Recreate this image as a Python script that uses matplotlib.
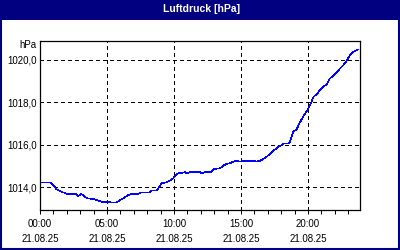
import matplotlib
matplotlib.use('Agg')
import matplotlib.pyplot as plt
from matplotlib.patches import Rectangle
from matplotlib.ticker import MultipleLocator, FixedLocator

# Luftdruck over the day (hours since 00:00, hPa)
hours = [0.0, 0.77, 1.02, 1.22, 1.59, 2.09, 2.71, 2.84, 3.09, 3.33, 3.58,
         4.08, 4.58, 5.32, 5.70, 6.07, 6.69, 7.31, 7.56, 8.21, 8.33, 8.71,
         8.83, 9.08, 9.46, 9.70, 9.95, 10.07, 10.32, 10.70, 10.82, 10.95,
         11.19, 11.44, 11.94, 12.06, 12.31, 12.56, 12.81, 12.94, 13.43,
         13.68, 13.93, 14.18, 14.43, 14.68, 14.93, 15.17, 15.43, 15.67,
         15.92, 16.17, 16.42, 16.67, 16.91, 17.16, 17.41, 17.66, 17.79,
         18.04, 18.16, 18.53, 18.66, 18.78, 18.91, 19.16, 19.28, 19.40,
         19.70, 20.02, 20.15, 20.40, 20.65, 20.90, 21.14, 21.40, 21.64,
         21.89, 22.14, 22.39, 22.63, 22.89, 23.13, 23.38, 23.75]
pressure = [1014.22, 1014.22, 1014.08, 1013.91, 1013.79, 1013.68, 1013.68,
            1013.59, 1013.68, 1013.56, 1013.48, 1013.43, 1013.32, 1013.29,
            1013.29, 1013.43, 1013.67, 1013.68, 1013.76, 1013.76, 1013.84,
            1013.84, 1013.95, 1014.19, 1014.24, 1014.31, 1014.42, 1014.53,
            1014.66, 1014.69, 1014.71, 1014.66, 1014.71, 1014.73, 1014.73,
            1014.66, 1014.71, 1014.73, 1014.73, 1014.86, 1014.89, 1015.02,
            1015.10, 1015.13, 1015.21, 1015.25, 1015.21, 1015.25, 1015.22,
            1015.25, 1015.25, 1015.21, 1015.25, 1015.33, 1015.44, 1015.57,
            1015.72, 1015.83, 1015.91, 1015.99, 1016.07, 1016.07, 1016.15,
            1016.38, 1016.62, 1016.74, 1016.90, 1017.06, 1017.40, 1017.70,
            1017.86, 1018.26, 1018.38, 1018.58, 1018.73, 1018.85, 1019.13,
            1019.25, 1019.41, 1019.60, 1019.75, 1019.96, 1020.23, 1020.38,
            1020.49]

xtick_pos = [0, 5, 10, 15, 20]
xtick_labels = ['00:00\n21.08.25', '05:00\n21.08.25', '10:00\n21.08.25',
                '15:00\n21.08.25', '20:00\n21.08.25']
ytick_pos = [1014, 1016, 1018, 1020]
ytick_labels = ['1014,0', '1016,0', '1018,0', '1020,0']

NAVY = '#000080'
FONT = 'Liberation Sans'
FS = 7

fig = plt.figure(figsize=(4, 2.5), dpi=100)
fig.patch.set_facecolor('white')

# title bar + frame
fig.add_artist(Rectangle((0, 1 - 20 / 250.), 1, 20 / 250., transform=fig.transFigure,
                         facecolor=NAVY, edgecolor='none'))
fig.add_artist(Rectangle((0.5 / 400, 1 / 250.), 1 - 2 / 400., 1 - 1.5 / 250.,
                         transform=fig.transFigure, facecolor='none',
                         edgecolor=NAVY, linewidth=1.5))
fig.text(202 / 400., 1 - 9.5 / 250., 'Luftdruck [hPa]', color='white',
         fontsize=7.5, fontweight='bold', family=FONT, ha='center', va='center')

ax = fig.add_axes([40 / 400., 40 / 250., 320 / 400., 169 / 250.])
ax.plot(hours, pressure, color='#0000ff', linewidth=0.4, antialiased=False)

ax.set_xlim(0, 23.88)
ax.set_ylim(1012.93, 1020.89)

ax.xaxis.set_major_locator(FixedLocator(xtick_pos))
ax.set_xticklabels(xtick_labels, fontsize=FS, family=FONT, linespacing=1.65)
ax.xaxis.set_minor_locator(MultipleLocator(1))
ax.set_yticks(ytick_pos)
ax.set_yticklabels(ytick_labels, fontsize=FS, family=FONT)

ax.tick_params(axis='x', which='both', direction='out', length=3, width=0.72,
               pad=3.5, colors='black')
ax.tick_params(axis='y', length=0, pad=2.5)

ax.grid(True, which='major', color='black', linestyle=(0, (3, 3)),
        linewidth=0.72, antialiased=False)
for sp in ax.spines.values():
    sp.set_linewidth(0.9)
    sp.set_color('black')

fig.text(37 / 400., 1 - 45 / 250., 'hPa', fontsize=FS, family=FONT,
         ha='right', va='center')

plt.savefig('out.png', dpi=100)
